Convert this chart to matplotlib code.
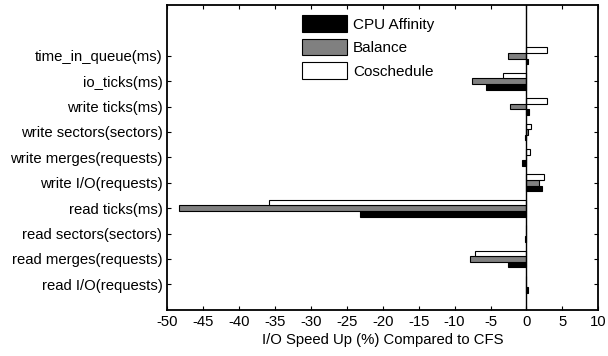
import numpy as np
import matplotlib.pyplot as plt

plt.rcParams['font.family'] = ['Liberation Sans', 'DejaVu Sans']
plt.rcParams['axes.unicode_minus'] = False

categories = ['read I/O(requests)', 'read merges(requests)', 'read sectors(sectors)',
              'read ticks(ms)', 'write I/O(requests)', 'write merges(requests)',
              'write sectors(sectors)', 'write ticks(ms)', 'io_ticks(ms)',
              'time_in_queue(ms)']
cpu_affinity = [0.15, -2.6, -0.2, -23.1, 2.1, -0.55, -0.2, 0.3, -5.6, 0.2]
balance = [0.0, -7.8, 0.0, -48.4, 1.8, 0.0, 0.15, -2.3, -7.6, -2.5]
coschedule = [0.0, -7.1, 0.0, -35.8, 2.5, 0.5, 0.7, 2.9, -3.3, 2.9]

y = np.arange(1, len(categories) + 1)
h = 0.22

fig, ax = plt.subplots(figsize=(6.08, 3.56), dpi=100)
fig.subplots_adjust(left=0.275, right=0.984, top=0.986, bottom=0.13)

ax.barh(y - h, cpu_affinity, h, color='black', edgecolor='black', linewidth=0.8, label='CPU Affinity')
ax.barh(y, balance, h, color='#808080', edgecolor='black', linewidth=0.8, label='Balance')
ax.barh(y + h, coschedule, h, color='white', edgecolor='black', linewidth=0.8, label='Coschedule')
ax.axvline(0, color='black', linewidth=1)

for s in ax.spines.values():
    s.set_linewidth(1.3)

ax.set_xlim(-50, 10)
ax.set_ylim(0, 12)
ax.set_xticks(np.arange(-50, 11, 5))
ax.set_yticks(y)
ax.set_yticklabels(categories)
ax.tick_params(direction='in', top=True, right=True, labelsize=10.7, length=3)
ax.set_xlabel('I/O Speed Up (%) Compared to CFS', fontsize=10.7, labelpad=3)

ax.legend(loc='upper left', bbox_to_anchor=(0.28, 1.012), frameon=False, fontsize=11,
          handlelength=3.0, handleheight=1.3, labelspacing=0.45, handletextpad=0.35)

plt.savefig('out.png', dpi=100)
